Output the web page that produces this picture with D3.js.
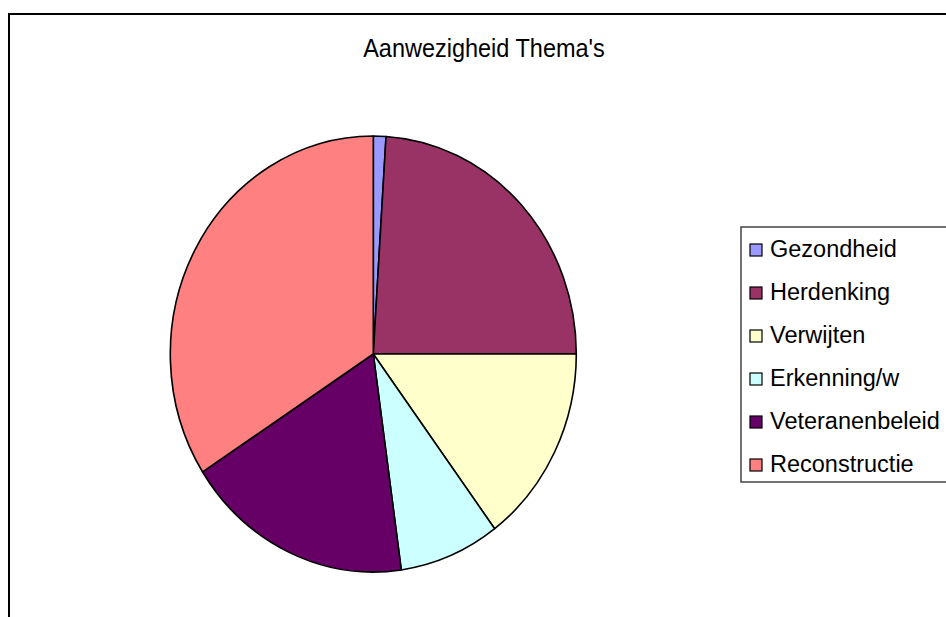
<!DOCTYPE html>
<html>
<head>
<meta charset="utf-8">
<script src="https://cdn.jsdelivr.net/npm/d3@7/dist/d3.min.js"></script>
<style>
  html, body { margin: 0; padding: 0; background: #fff; }
  svg { display: block; }
  text { font-family: "Liberation Sans", Arial, sans-serif; fill: #000; }
</style>
</head>
<body>
<svg id="chart" width="946" height="617"></svg>
<script>
const title = "Aanwezigheid Thema's";
const categories = ["Gezondheid", "Herdenking", "Verwijten", "Erkenning/w", "Veteranenbeleid", "Reconstructie"];
const values = [1.0, 24.0, 14.8, 8.0, 18.1, 34.1];
const colors = ["#9999FF", "#993366", "#FFFFCC", "#CCFFFF", "#660066", "#FF8080"];

const svg = d3.select("#chart");

// outer chart frame (extends beyond window right/bottom)
svg.append("rect")
  .attr("x", 9).attr("y", 14)
  .attr("width", 1000).attr("height", 700)
  .attr("fill", "#fff").attr("stroke", "#000").attr("stroke-width", 2);

// title
svg.append("text")
  .attr("transform", "translate(484,57) scale(1,1.1)")
  .attr("text-anchor", "middle")
  .style("font-size", "23.5px")
  .text(title);

// pie
const cx = 373.3, cy = 354, r = 203, sy = 218 / 203;
const data = categories.map((c, i) => ({ name: c, value: values[i], color: colors[i] }));
const pie = d3.pie().sort(null).value(d => d.value);
const arc = d3.arc().innerRadius(0).outerRadius(r);

const g = svg.append("g").attr("transform", `translate(${cx},${cy}) scale(1,${sy})`);
g.selectAll("path")
  .data(pie(data))
  .join("path")
  .attr("d", arc)
  .attr("fill", d => d.data.color)
  .attr("stroke", "#000")
  .attr("stroke-width", 1.6)
  .attr("stroke-linejoin", "round")
  .attr("vector-effect", "non-scaling-stroke");

// legend
const lx = 741, ly = 227, lh = 255;
svg.append("rect")
  .attr("x", lx).attr("y", ly)
  .attr("width", 300).attr("height", lh)
  .attr("fill", "#fff").attr("stroke", "#444").attr("stroke-width", 1.5);

const rowY = d3.scalePoint().domain(categories).range([257, 472]);
const lg = svg.append("g");
const rows = lg.selectAll("g.row").data(data).join("g").attr("class", "row")
  .attr("transform", d => `translate(0,${rowY(d.name)})`);
rows.append("rect")
  .attr("x", 750).attr("y", -13)
  .attr("width", 12).attr("height", 12)
  .attr("fill", d => d.color)
  .attr("stroke", "#000").attr("stroke-width", 1.2);
rows.append("text")
  .attr("x", 770).attr("y", 0)
  .style("font-size", "23.5px")
  .text(d => d.name);
</script>
</body>
</html>
